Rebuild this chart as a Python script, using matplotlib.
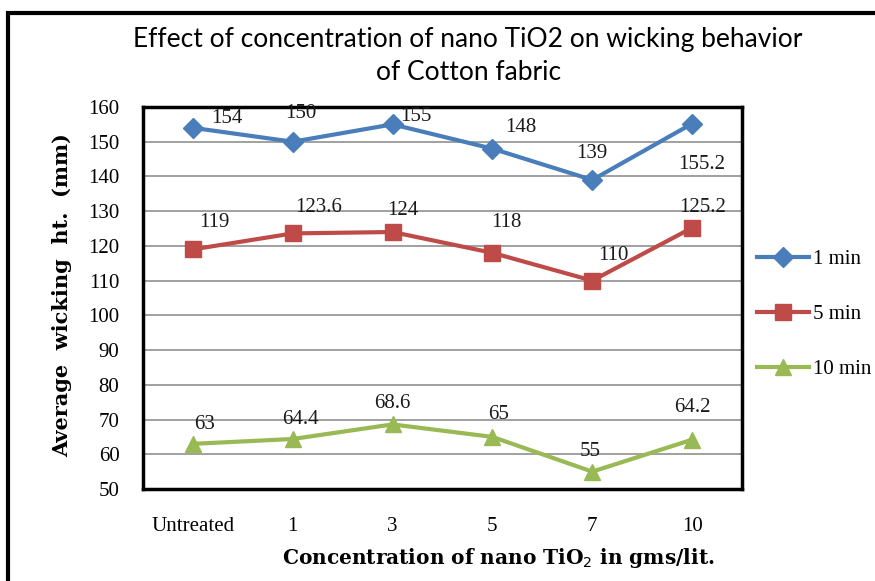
import numpy as np
import matplotlib.pyplot as plt
from matplotlib.patches import Rectangle

categories = ["Untreated", "1", "3", "5", "7", "10"]
one_min = [154, 150, 155, 148, 139, 155.2]
five_min = [119, 123.6, 124, 118, 110, 125.2]
ten_min = [63, 64.4, 68.6, 65, 55, 64.2]
series_names = ["1 min", "5 min", "10 min"]

# label nudges in pixels (dx, dy up), as placed in the original chart
label_offsets = [
    [(34, 9), (8, 28), (23, 8), (28, 21), (0, 26), (10, -41)],
    [(21, 27), (26, 26), (10, 22), (14, 30), (21, 25), (11, 20)],
    [(12, 19), (8, 19), (0, 21), (6, 22), (-2, 20), (0, 32)],
]

fig = plt.figure(figsize=(8.75, 5.81), dpi=100)
ax = fig.add_axes([143 / 875, 1 - 489 / 581, 599 / 875, 382 / 581])

# outer chart frame
fig.patches.append(Rectangle((8 / 875, -0.05), 1.2, 1 - 13 / 581 + 0.05,
                             transform=fig.transFigure, fill=False,
                             edgecolor="black", linewidth=3))

x = np.arange(len(categories))
styles = [("#4A7EBB", "D", 10), ("#BE4B48", "s", 12), ("#98B954", "^", 12)]
for vals, name, (col, mk, ms), offs in zip([one_min, five_min, ten_min],
                                            series_names, styles, label_offsets):
    ax.plot(x, vals, color=col, marker=mk, markersize=ms, linewidth=3, label=name)
    for xi, v, (dx, dy) in zip(x, vals, offs):
        ax.annotate("{:g}".format(v), (xi, v), xytext=(dx, dy),
                    textcoords="offset pixels", ha="center", va="center",
                    fontsize=15, family="Liberation Serif", color="#1a1a1a")

ax.set_xlim(-0.5, len(categories) - 0.5)
ax.set_ylim(50, 160)
ax.set_yticks(np.arange(50, 161, 10))
ax.set_xticks(x)
ax.set_xticklabels(categories, family="Liberation Serif", fontsize=15)
for lab in ax.get_yticklabels():
    lab.set_family("Liberation Serif")
    lab.set_fontsize(15)
ax.tick_params(axis="both", length=0)
ax.tick_params(axis="y", pad=17)
ax.tick_params(axis="x", pad=20)
ax.grid(axis="y", color="#a0a0a0", linewidth=1.4)
ax.set_axisbelow(True)
for sp in ax.spines.values():
    sp.set_linewidth(2.5)
    sp.set_color("black")

ax.set_ylabel("Average  wicking  ht.  (mm)", family="DejaVu Serif", fontweight="bold",
              fontsize=15)
ax.yaxis.set_label_coords(-0.119, 0.508)
ax.set_xlabel("Concentration of nano TiO$_2$ in gms/lit.", family="DejaVu Serif",
              fontweight="bold", fontsize=14.5)
ax.xaxis.set_label_coords(0.593, -0.149)

fig.text(0.535, 1 - 40 / 581, "Effect of concentration of nano TiO2 on wicking behavior",
         ha="center", va="center", fontsize=19, family="Lato")
fig.text(0.535, 1 - 72 / 581, "of Cotton fabric", ha="center", va="center",
         fontsize=19, family="Lato")

ax.legend(loc="center left", bbox_to_anchor=(1.025, 0.458), frameon=False,
          prop={"family": "Liberation Serif", "size": 15}, handlelength=2.5,
          handletextpad=0.2, labelspacing=1.7, borderaxespad=0, borderpad=0)

fig.savefig("out.png", dpi=100)
